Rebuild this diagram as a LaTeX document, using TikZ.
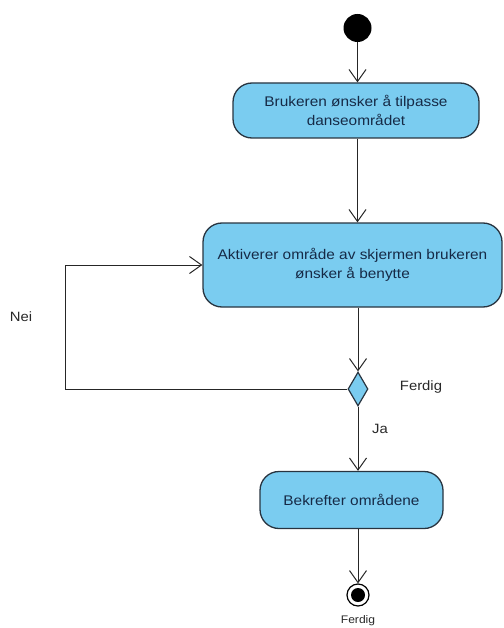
\documentclass[tikz,border=0pt]{standalone}
\usepackage{fontspec}
\setmainfont{Liberation Sans}
\newfontfamily\boxfont[FakeStretch=1.1]{Liberation Sans}
\usetikzlibrary{arrows.meta,shapes.geometric}

\definecolor{actfill}{RGB}{122,204,240}
\definecolor{actline}{RGB}{40,52,64}
\definecolor{acttext}{RGB}{22,42,70}
\definecolor{lbltext}{RGB}{40,40,40}

\tikzset{
  activity/.style={draw=actline, line width=1.3pt, fill=actfill, rounded corners=19pt,
    text=acttext, align=center, font=\boxfont\fontsize{14}{18.5}\selectfont, inner sep=0pt},
  flow/.style={draw=black!85, line width=1pt,
    -{Straight Barb[length=12pt,width=17pt,line width=1pt]}},
  decision/.style={draw=actline, line width=1.2pt, fill=actfill, diamond, aspect=0.59,
    minimum width=20pt, minimum height=34pt, inner sep=0pt},
  guard/.style={text=lbltext, font=\boxfont\fontsize{13.5}{15}\selectfont},
}

\begin{document}
\begin{tikzpicture}[x=1pt, y=-1pt]
  \useasboundingbox (0,0) rectangle (503,628);

  % initial node
  \node[circle, fill=black, minimum size=28pt, inner sep=0pt] (start) at (357.5,28) {};

  % actions
  \node[activity, minimum width=246pt, minimum height=55pt] (choose) at (356,110.5)
    {Brukeren ønsker å tilpasse\\danseområdet};
  \node[activity, minimum width=299pt, minimum height=84pt] (activate) at (352.5,265)
    {Aktiverer område av skjermen brukeren\\ønsker å benytte};
  \node[decision] (done) at (358,389) {};
  \node[activity, minimum width=183pt, minimum height=57pt] (confirm) at (351.5,500)
    {Bekrefter områdene};

  % final node
  \node[circle, draw=black, line width=1.2pt, fill=white, minimum size=22pt, inner sep=0pt] (end) at (358,595) {};
  \node[circle, fill=black, minimum size=14pt, inner sep=0pt] at (end) {};

  % guards and labels
  \node[guard] (lblferdig) at (421,387) {Ferdig};
  \node[guard] (lblja) at (380,429) {Ja};
  \node[guard] (lblnei) at (21,317) {Nei};
  \node[guard, font=\boxfont\fontsize{11}{12}\selectfont] (lblend) at (358,621) {Ferdig};

  % control flows
  \draw[flow] (start) -- (start |- choose.north);
  \draw[flow] (choose.south -| start) -- (start |- activate.north);
  \draw[flow] (activate.south -| done) -- (done.north);
  \draw[flow] (done.south) -- (done |- confirm.north);
  \draw[flow] (confirm.south -| end) -- (end.north);
  \coordinate (loopcorner) at (65,389);
  \draw[flow] (done.west) -- (loopcorner) |- (activate.west);
\end{tikzpicture}
\end{document}
